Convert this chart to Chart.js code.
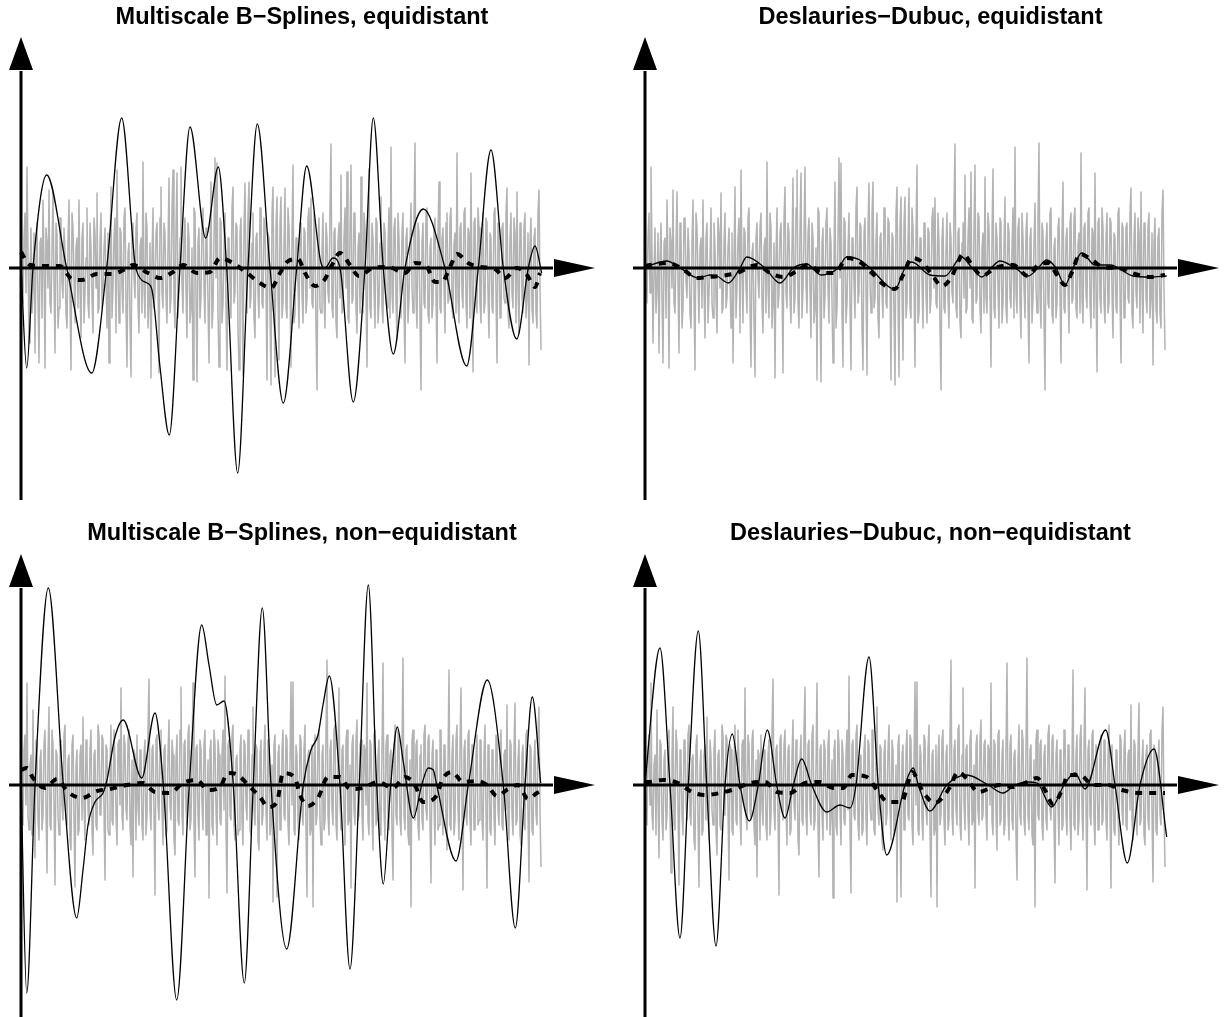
<!DOCTYPE html>
<html><head><meta charset="utf-8">
<script src="https://cdn.jsdelivr.net/npm/chart.js@4.4.1/dist/chart.umd.min.js"></script>
<style>
html,body{margin:0;padding:0;background:#fff;width:1231px;height:1017px;overflow:hidden}
canvas{position:absolute}
</style></head><body>
<canvas id="c0" width="604" height="508" style="left:0px;top:0px"></canvas>
<canvas id="c1" width="601" height="508" style="left:630px;top:0px"></canvas>
<canvas id="c2" width="604" height="501" style="left:0px;top:516px"></canvas>
<canvas id="c3" width="601" height="501" style="left:630px;top:516px"></canvas>
<script>
// ---------------- DATA ----------------
const titles = [
  "Multiscale B\u2212Splines, equidistant",
  "Deslauries\u2212Dubuc, equidistant",
  "Multiscale B\u2212Splines, non\u2212equidistant",
  "Deslauries\u2212Dubuc, non\u2212equidistant"
];

// spacing between successive noisy observations (x units)
const graySpacing = 1;

// noisy observations, equidistant design (shared by both top panels)
const grayEquidistant = [
  20,-10,-35,30,55,-25,101,15,-75,-5,40,-45,-20,35,-85,10,45,-30,-95,25,
  30,-50,68,5,-100,40,25,-20,78,-35,-45,20,76,-15,-85,45,35,-60,-40,50,
  50,-15,-30,40,15,-45,-60,25,68,-30,-102,55,40,-10,-55,20,30,-40,68,-20,
  -70,30,45,-55,-25,10,60,-35,-50,45,20,-30,-65,50,35,-20,75,-45,-40,25,
  55,-40,-30,20,40,-15,-60,35,-95,10,81,-50,-20,30,50,-65,98,-5,-55,40,
  35,-20,-45,50,60,-40,-99,15,25,-55,-109,30,45,-10,-30,40,55,-35,-65,20,
  30,-45,106,-20,-50,55,40,-60,-35,25,-110,10,60,-40,-25,35,45,-15,-105,50,
  81,-25,-40,45,35,-30,-55,20,90,-45,-30,60,98,-35,-60,40,95,-50,-20,30,
  101,-15,-45,35,50,-25,-70,45,30,-55,-40,20,-112,60,55,-30,-114,25,40,-50,
  -30,45,60,-20,-55,40,25,-35,-95,15,86,-60,-40,30,110,-10,105,-45,-99,50,
  45,-55,-35,20,55,-40,-102,30,30,-15,-50,60,81,-35,-25,45,40,-60,-102,35,
  50,-20,-107,40,85,-15,-45,55,86,-40,-30,25,55,-50,-70,30,35,-25,-50,60,
  60,-35,-40,50,45,-20,-112,35,30,-45,-117,55,81,-30,-109,40,71,-25,-92,45,
  71,-50,-35,25,80,-40,-50,60,40,-20,-99,35,103,-55,-45,30,30,-15,-60,45,
  45,-25,-55,40,35,-45,-30,50,60,-20,70,-35,-40,55,25,-60,-122,30,50,-40,
  -45,20,55,-30,-60,45,30,-25,-35,60,124,-40,-50,35,40,-55,-70,25,45,-30,
  93,-45,-40,30,60,-20,96,-50,-55,40,103,-35,-30,55,50,-40,-65,20,35,-45,
  91,-30,-45,55,40,-25,-99,35,99,-40,-50,45,30,-20,-60,50,45,-55,-35,25,
  71,-40,-55,45,35,-30,-40,20,60,-50,121,-25,-45,40,50,-35,-70,55,30,-20,
  -50,35,55,-40,-95,30,40,-55,-30,25,65,-20,-45,50,125,-30,-60,45,35,-50,
  -122,25,45,-35,-40,55,60,-45,-55,20,30,-50,-35,40,50,-25,-95,35,86,-40,
  -45,30,40,-20,-65,45,55,-35,-30,50,60,-40,-50,25,35,-45,115,-30,-55,40,
  45,-25,-40,55,60,-35,-60,40,35,-50,95,-20,-104,45,50,-30,-45,60,40,-35,
  -55,30,55,-45,-35,50,45,-25,-70,35,30,-40,-45,55,60,-30,-95,45,40,-50,
  -50,40,45,-30,-35,55,80,-45,-60,30,55,-25,-40,50,35,-55,76,-20,-65,45,
  45,-30,-45,40,55,-50,-30,35,-97,25,50,-40,-55,30,40,-45,-60,55,78,-20,-82
];

// noisy observations, non-equidistant design (shared by both bottom panels)
const grayNonEquidistant = [
  15,-25,-40,35,50,-20,102,-30,-45,20,30,-50,75,-15,-73,45,40,-35,-55,25,
  35,-45,-30,40,55,-25,-88,30,78,-40,-45,55,40,-20,-100,35,30,-30,-50,45,
  45,-20,-35,50,60,-30,-40,25,30,-55,-65,40,50,-35,-102,20,35,-50,-45,30,
  40,-35,68,-20,-55,45,30,-25,-40,35,55,-45,-70,30,35,-40,-45,60,50,-30,
  -30,50,45,-25,-95,40,35,-45,-50,20,60,-35,-40,55,25,-30,-60,40,45,-20,
  97,-30,-45,50,40,-25,-35,45,55,-40,-60,25,-92,35,30,-55,50,-20,-40,35,
  35,-40,-55,30,45,-50,-30,55,106,-25,-45,35,40,-30,-110,45,50,-20,-35,40,
  55,-25,-60,35,40,-50,-45,30,65,-20,-35,45,30,-55,-70,25,50,-35,-40,55,
  98,-30,-50,40,45,-25,-40,50,60,-45,-35,20,102,-40,-92,35,40,-30,-55,45,
  35,-20,-45,40,55,-50,-30,25,-113,35,45,-40,-50,55,40,-25,-60,45,30,-35,
  -40,30,55,-25,109,-45,-108,40,45,-30,-35,50,60,-40,-55,25,30,-50,-45,35,
  50,-35,-60,45,40,-20,-35,55,55,-45,-50,30,78,-25,-40,40,35,-55,-65,30,
  45,-40,-30,35,60,-25,-55,45,35,-50,-40,20,-117,40,50,-35,-112,30,40,-45,
  -45,35,55,-30,-35,50,45,-40,-60,25,103,-20,103,-45,-50,40,30,-35,-55,50,
  45,-25,-40,35,60,-45,-112,30,35,-50,-45,40,-122,25,50,-40,-30,45,55,-35,
  -60,30,40,-45,-35,50,125,-30,-50,35,45,-25,-40,55,60,-40,-55,30,97,-20,
  -45,35,40,-30,-60,45,55,-40,-35,20,-103,40,50,-25,-40,45,65,-35,-30,40,
  45,-30,-55,40,35,-20,102,-35,-50,45,40,-30,-65,50,55,-40,-35,30,45,-50,
  -40,35,122,-25,-55,40,50,-35,-45,30,35,-50,-95,25,60,-30,-40,55,45,-35,
  -50,40,127,-30,-45,35,40,-50,-60,25,-122,45,55,-30,-35,40,45,-40,-55,30,
  40,-35,-45,50,60,-25,-35,45,50,-40,-98,30,45,-20,-60,35,35,-45,-40,55,
  55,-30,-50,40,40,-35,-65,25,115,-40,-45,30,50,-50,-35,45,60,-25,-55,40,
  97,-20,-105,35,45,-30,-40,50,55,-35,-60,40,35,-45,-45,30,50,-40,-35,45,
  45,-35,-55,30,60,-25,-103,40,40,-45,-50,35,35,-30,-60,50,45,-25,-40,35,
  55,-40,-45,30,35,-25,80,-35,-55,45,40,-30,-50,35,82,-40,-35,25,45,-50,
  -60,30,40,-35,-45,50,55,-30,-97,40,35,-45,-50,25,45,-30,-40,55,78,-25,-82
];

// Multiscale B-spline estimate, equidistant (solid thin line)
const msbEqX = [0,5.7,12,25.7,45.7,70.7,85.7,100.7,114,119,126,131,139,148.3,159,169,184.7,197.3,205.7,216.7,227,236.3,249,262.3,275.7,285.7,300,304,312,319,332.3,344,352.3,362.3,372.3,384,402.3,424,445.7,457.3,470,482.3,495.7,507.3,514,520.7];
const msbEqY = [2,-100,0,93,0,-105,0,150,5,-10,-15,-22,-99,-167,0,141,30,101,0,-205,0,144,0,-135,0,102,5,0,10,0,-134,0,150,0,-86,0,59,0,-98,0,118,0,-71,0,22,-5];

// Deslauries-Dubuc estimate, equidistant
const ddEqX = [0,21.7,35,53.3,65,72,83.3,95,101.7,120,135,148.3,161.7,176,193.3,201.7,215,225,250,260,266.7,285,300,316.7,327,336.7,346,355,370,383.3,393,401.7,411,420,428,436.7,450,465,488,505,521.7];
const ddEqY = [1,7,0,-10,-7,-8,-15,0,11,0,-15,0,4,-7,0,11,8,0,-21,0,6,-7,-8,11,0,-9,0,7,0,-8,0,8,0,-17,0,15,3,3,-8,-9,-8];

// Multiscale B-spline estimate, non-equidistant
const msbNeX = [0,5.7,14,27.3,42.3,55.7,62,67,74,82,86,94,102.3,120.7,134,142.3,155.7,168.3,180.7,188,195.7,203,212.3,223.3,232.3,241.3,250,265.7,282.3,290,297,302,308.3,319,329,338.3,347.3,355.7,362.3,369.7,376.3,382,392.3,400.7,407.3,412.3,415.7,435,447.3,466.3,482.3,494.3,504,511.3,519.7];
const msbNeY = [5,-208,0,197,0,-133,-85,-40,-17,-8,5,48,65,7,72,0,-215,0,160,120,80,84,0,-198,0,177,0,-164,0,35,50,80,109,0,-184,0,200,0,-99,0,58,25,-33,0,17,15,0,-76,0,105,0,-143,0,88,2];

// Deslauries-Dubuc estimate, non-equidistant
const ddNeX = [0,15,25,35,43.3,53.3,61.7,71,80,87.3,95,104.3,113.3,122.3,131.7,140,148.3,156.7,166.7,181.7,195,205,211,224,233.3,241.7,260,268.3,273.3,285,301.7,321.7,343.3,358,370,383,392,406.7,419,430,440,460.7,470,482.3,495,509,521.7];
const ddNeY = [2,137,0,-153,0,154,0,-161,0,51,0,-36,0,55,0,-33,0,26,0,-27,-20,-23,0,128,0,-70,0,17,0,-26,0,10,0,-8,0,3,2,-22,0,12,-4,55,0,-78,0,36,-52];

// true function (thick dashed line), as seen in each panel
const trueTLX = [0,9,27,39,51,61,76,91,106,112,127,139,152,162,176,189,199,212,226,239,250,259,266,277,284,294,304,311,319,329,338,352,367,384,394,406,414,421,429,436,447,459,474,484,496,506,514,519];
const trueTLY = [16,3,2,2,-11,-12,-6,-6,0,3,-5,-10,-4,3,-5,-4,10,5,-5,-15,-20,-5,6,9,-5,-18,-11,3,15,3,-8,0,1,-5,5,1,-14,-14,1,14,5,1,-1,-10,0,-7,-19,-5];
const trueTRX = [0,5,23,36,52,62,75,92,112,125,138,152,163,178,190,202,215,227,238,250,258,267,277,287,297,307,313,318,327,337,350,368,383,393,403,412,420,427,435,447,458,473,490,505,520];
const trueTRY = [2,3,5,0,-10,-9,-8,-5,3,-5,-9,-3,3,-5,-5,10,6,-5,-16,-21,-7,10,6,-7,-18,-8,6,14,3,-8,0,3,-8,3,5,-7,-17,-4,14,8,1,0,-6,-9,-7];
const trueBLX = [0,6,12,24,36,47,61,76,89,106,122,134,149,162,176,187,199,207,217,227,239,247,256,262,274,279,287,297,307,319,329,342,357,372,384,394,402,416,421,431,442,456,466,476,487,497,507,516,520];
const trueBLY = [15,17,7,-3,6,-7,-13,-6,-4,0,2,-7,-8,2,5,-5,-2,12,10,0,-12,-22,-17,12,7,-10,-21,-13,8,8,-4,-3,3,-3,8,0,-17,-10,5,13,3,4,0,-11,-4,0,-14,-8,-6];
const trueBRX = [0,3,18,33,47,60,75,90,105,120,132,145,160,175,188,198,207,222,232,243,257,262,267,278,290,298,305,313,323,333,355,368,382,392,400,408,417,423,435,448,463,477,493,508,520];
const trueBRY = [3,3,5,2,-7,-10,-8,-4,2,3,-7,-8,2,3,-3,-3,10,8,-5,-17,-17,-2,13,-7,-18,-12,-2,13,5,-7,0,-2,3,7,-5,-19,-5,10,10,0,0,-5,-8,-8,-8];

// ---------------- CHARTS ----------------
const pairs = (xs, ys) => xs.map((x, i) => ({x, y: ys[i]}));
const grayPts = vals => vals.map((v, i) => ({x: i * graySpacing, y: v}));

const arrowAxes = {
  id: 'arrowAxes',
  afterDatasetDraw(chart, args, o) {
    if (args.index !== 0) return;
    const {ctx} = chart, xs = chart.scales.x, ys = chart.scales.y;
    const x0 = xs.getPixelForValue(0), y0 = ys.getPixelForValue(0);
    ctx.save();
    ctx.strokeStyle = '#000'; ctx.fillStyle = '#000'; ctx.lineWidth = 3; ctx.lineCap = 'butt';
    const yTip = ys.getPixelForValue(o.yTip), yBase = ys.getPixelForValue(o.yHeadBase), yBot = ys.getPixelForValue(o.yBottom);
    ctx.beginPath(); ctx.moveTo(x0, yBot); ctx.lineTo(x0, yBase + 1); ctx.stroke();
    ctx.beginPath(); ctx.moveTo(x0, yTip); ctx.lineTo(x0 - 12, yBase); ctx.lineTo(x0 + 12, yBase); ctx.closePath(); ctx.fill();
    const xS = xs.getPixelForValue(o.xStart), xB = xs.getPixelForValue(o.xHeadBase), xT = xs.getPixelForValue(o.xTip);
    ctx.beginPath(); ctx.moveTo(xS, y0); ctx.lineTo(xB - 1, y0); ctx.stroke();
    ctx.beginPath(); ctx.moveTo(xT, y0); ctx.lineTo(xB, y0 - 9); ctx.lineTo(xB, y0 + 9); ctx.closePath(); ctx.fill();
    ctx.restore();
  }
};

const panels = [
  {id: 'c0', title: titles[0], gray: grayEquidistant, fx: msbEqX, fy: msbEqY, tx: trueTLX, ty: trueTLY, axX: 21, yMin: -240, yMax: 238},
  {id: 'c1', title: titles[1], gray: grayEquidistant, fx: ddEqX, fy: ddEqY, tx: trueTRX, ty: trueTRY, axX: 15, yMin: -240, yMax: 238},
  {id: 'c2', title: titles[2], gray: grayNonEquidistant, fx: msbNeX, fy: msbNeY, tx: trueBLX, ty: trueBLY, axX: 21, yMin: -232, yMax: 239},
  {id: 'c3', title: titles[3], gray: grayNonEquidistant, fx: ddNeX, fy: ddNeY, tx: trueBRX, ty: trueBRY, axX: 15, yMin: -232, yMax: 239}
];

panels.forEach(p => {
  const cv = document.getElementById(p.id);
  new Chart(cv, {
    type: 'line',
    data: {
      datasets: [
        {data: grayPts(p.gray), borderColor: '#b3b3b3', borderWidth: 1.5, pointRadius: 0, tension: 0, borderJoinStyle: 'round', order: 3},
        {data: pairs(p.fx, p.fy), borderColor: '#000', borderWidth: 1.3, pointRadius: 0, cubicInterpolationMode: 'monotone', order: 2},
        {data: pairs(p.tx, p.ty), borderColor: '#000', borderWidth: 4, borderDash: [7, 7], borderCapStyle: 'butt', pointRadius: 0, cubicInterpolationMode: 'monotone', order: 1}
      ]
    },
    options: {
      responsive: false, animation: false, events: [],
      layout: {padding: 0},
      scales: {
        x: {type: 'linear', display: false, min: -p.axX, max: cv.width - p.axX},
        y: {type: 'linear', display: false, min: p.yMin, max: p.yMax}
      },
      plugins: {
        legend: {display: false}, tooltip: {enabled: false},
        title: {display: true, text: p.title, color: '#000', padding: {top: 6, bottom: 0},
                font: {family: "'Liberation Sans', Arial, Helvetica, sans-serif", size: 23.5, weight: 'bold', lineHeight: '24px'}},
        arrowAxes: {yTip: 231, yHeadBase: 198, yBottom: -232, xStart: -12, xHeadBase: 533, xTip: 574}
      }
    },
    plugins: [arrowAxes]
  });
});
</script>
</body></html>
